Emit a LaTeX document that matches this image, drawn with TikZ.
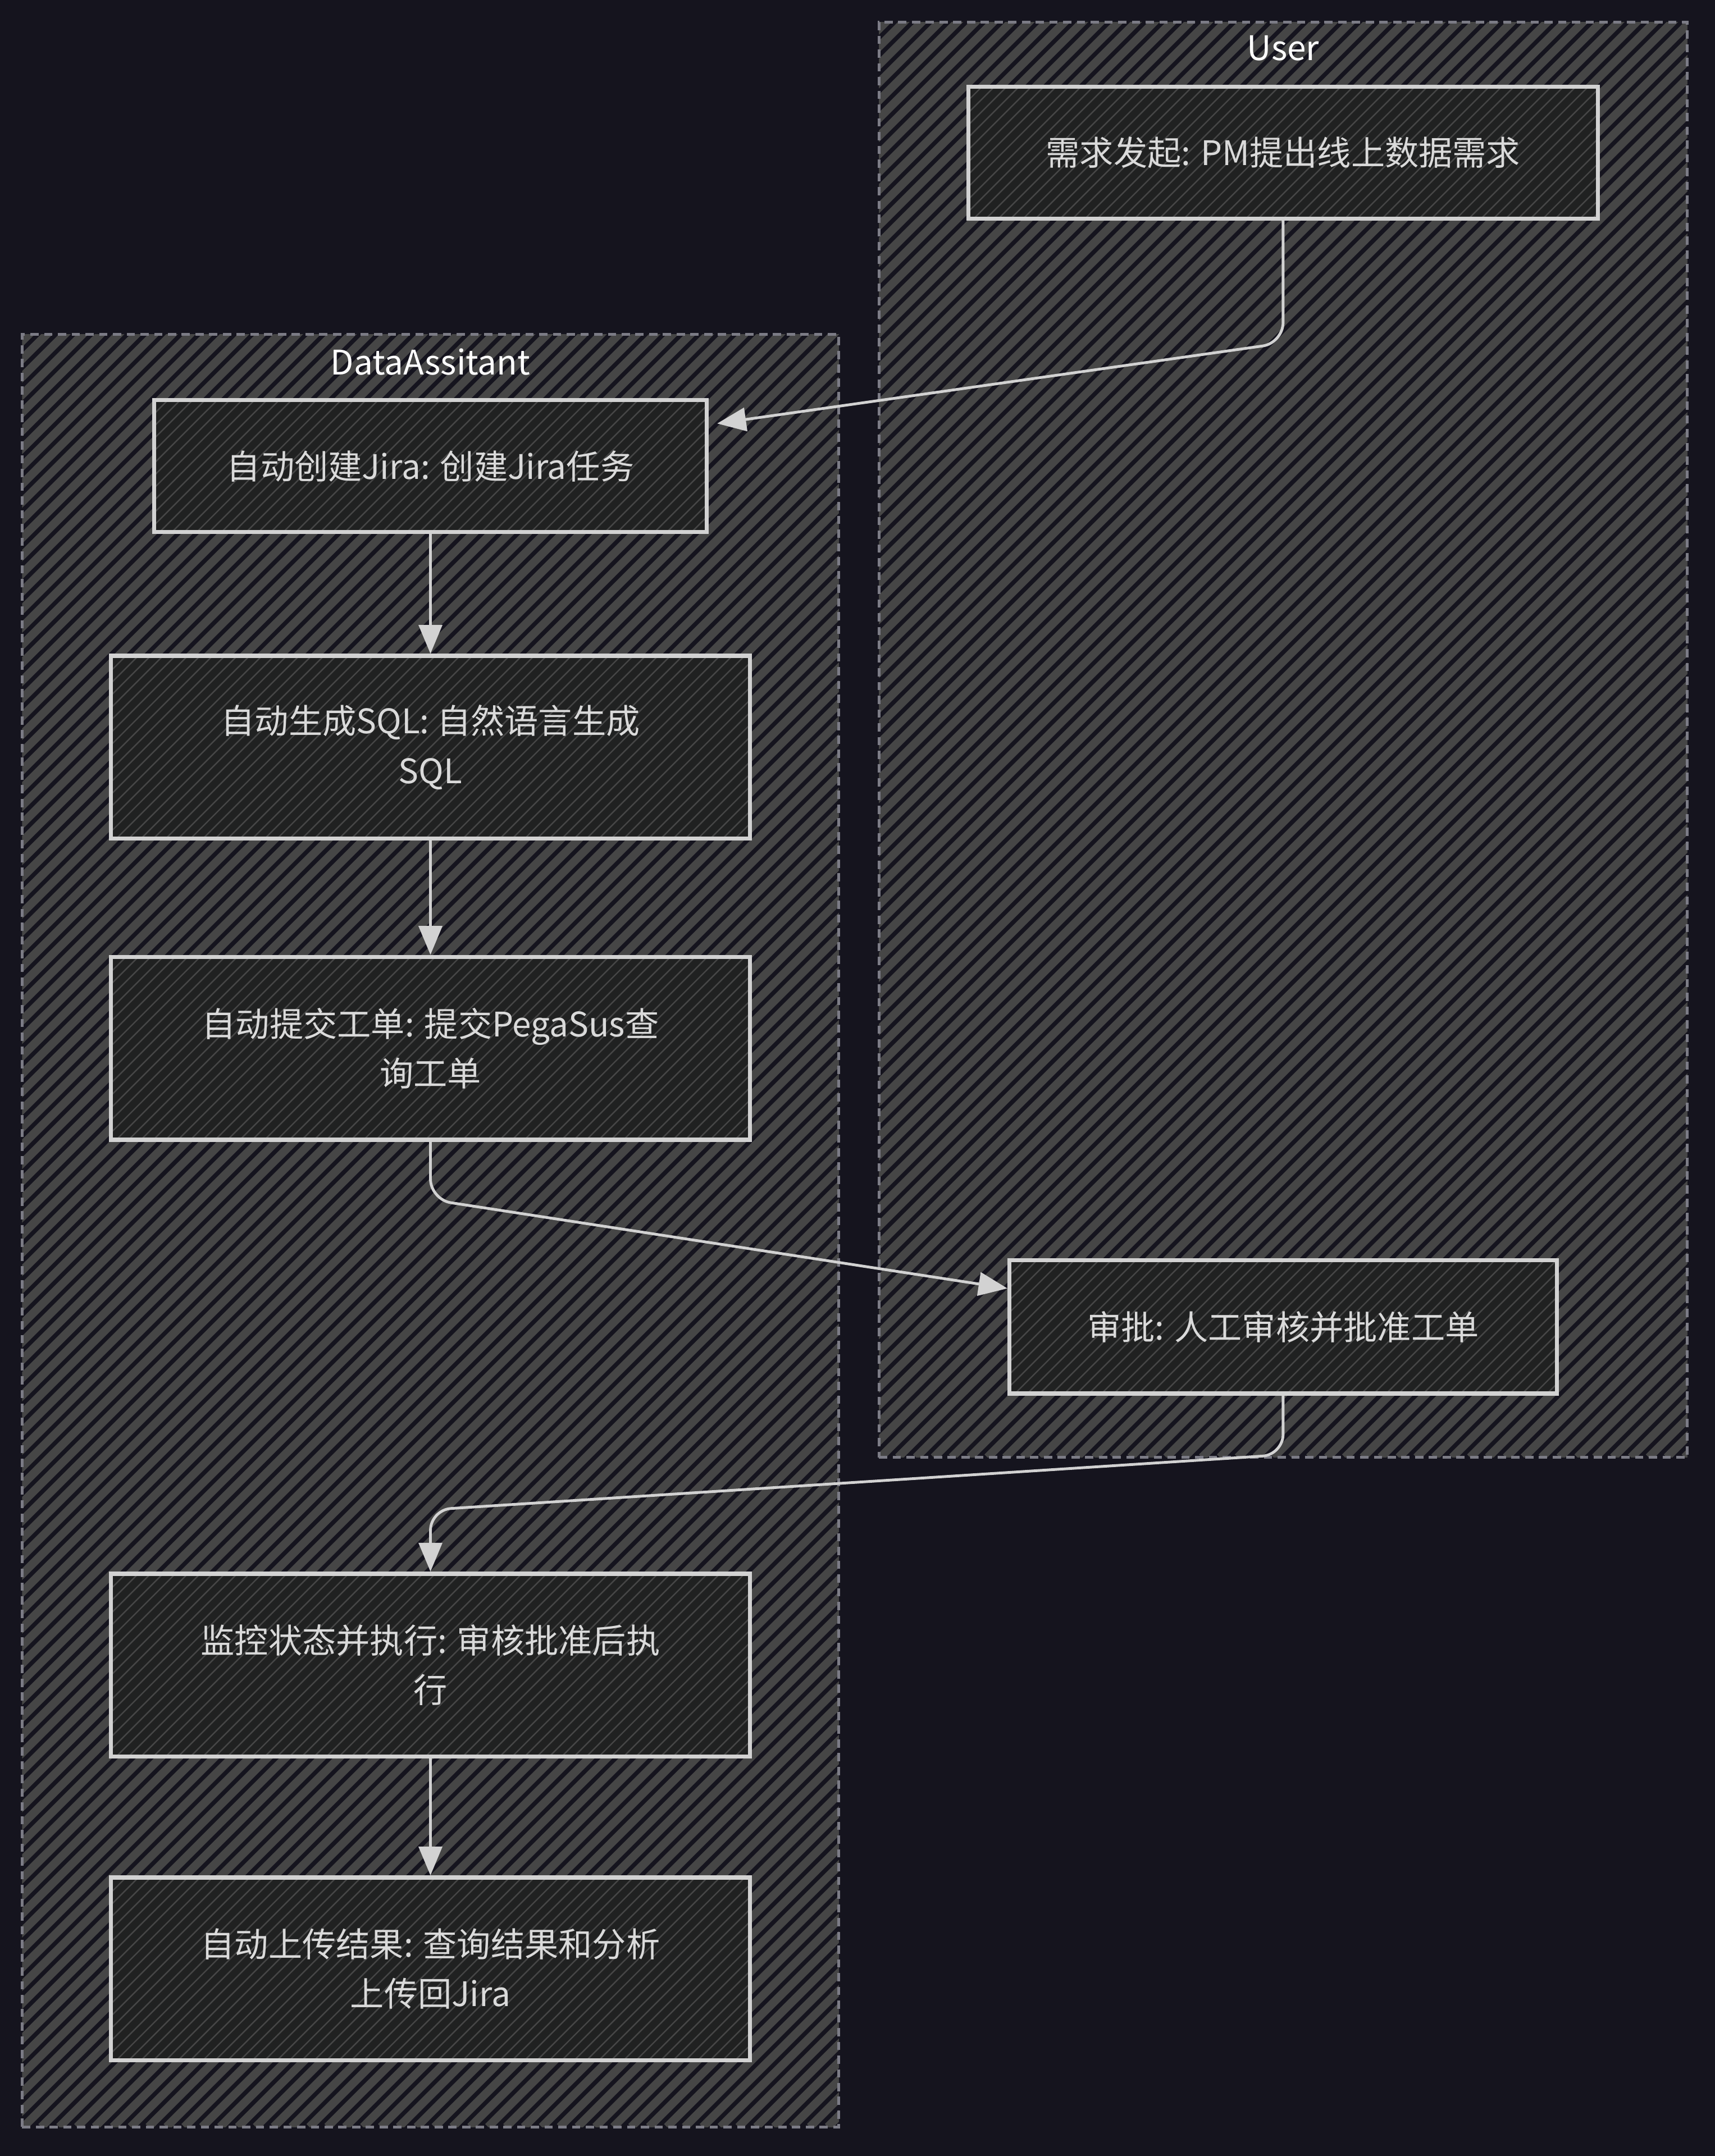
\documentclass[tikz,border=0pt]{standalone}
\usepackage{fontspec}
\setmainfont{Noto Sans CJK SC}
\usepackage{tikz}
\usetikzlibrary{positioning,arrows.meta}
\definecolor{bg}{HTML}{15141E}
\definecolor{hatch}{HTML}{464646}
\definecolor{boxfill}{HTML}{202121}
\definecolor{boxline}{HTML}{D2D2D2}
\definecolor{clusterline}{HTML}{7C7C86}
\definecolor{txt}{HTML}{DADADA}
\tikzset{>={Triangle[length=0.42cm,width=0.34cm]}}
\tikzset{
  hatchline/.style={draw=hatch, solid, line width=0.12cm},
  thinline/.style={draw=hatch, solid, line width=0.02cm},
  cluster/.style={draw=clusterline, dash pattern=on 0.12cm off 0.08cm, line width=0.04cm, inner sep=0,
    path picture={\foreach \i in {0,...,150}
      \draw[hatchline] ([xshift=-26.5cm+\i*0.26cm]path picture bounding box.south west) -- ++(26.6cm,26.6cm);}},
  ctitle/.style={text=white, font=\fontsize{14}{17}\selectfont, inner sep=0},
  task/.style={draw=boxline, fill=boxfill, line width=0.06cm, text=txt, align=center,
    font=\fontsize{14}{20.5}\selectfont, inner sep=0,
    path picture={\foreach \i in {0,...,70}
      \draw[thinline] ([xshift=-2.8cm+\i*0.18cm]path picture bounding box.south west) -- ++(2.8cm,2.8cm);}},
  wide/.style={minimum width=9.3cm, minimum height=2.66cm},
  edge/.style={->, draw=boxline, line width=0.04cm, rounded corners=0.3cm}
}

\begin{document}
\begin{tikzpicture}[x=0.02cm, y=-0.02cm]
    \useasboundingbox[fill=bg] (0,0) rectangle (1247,1568);
    % set up the clusters
    \node[cluster, minimum width=11.76cm, minimum height=20.88cm] (user) at (933,538) {};
    \node[cluster, minimum width=11.88cm, minimum height=26.08cm] (da) at (313,895) {};
    \node[ctitle] (usertitle) at (933,35) {User};
    \node[ctitle] (datitle) at (313,263) {DataAssitant};
    % set up the nodes
    \node[task, minimum width=9.16cm, minimum height=1.92cm] (need) at (933,111) {需求发起: PM提出线上数据需求};
    \node[task, minimum width=7.96cm, minimum height=1.94cm] (approve) at (933,965) {审批: 人工审核并批准工单};
    \node[task, minimum width=8.04cm, minimum height=1.92cm] (jira) at (313,339) {自动创建Jira: 创建Jira任务};
    \node[task, wide, below=1.74cm of jira] (sql) {自动生成SQL: 自然语言生成\\SQL};
    \node[task, wide, below=1.66cm of sql] (submit) {自动提交工单: 提交PegaSus查\\询工单};
    \node[task, wide] (monitor) at (313,1211) {监控状态并执行: 审核批准后执\\行};
    \node[task, wide, below=1.7cm of monitor] (upload) {自动上传结果: 查询结果和分析\\上传回Jira};
    % draw arrows between them
    \draw[edge] (need.south) -- ++(0,89) -- ([xshift=0.12cm,yshift=0.62cm]jira.east);
    \draw[edge] (jira) -- (sql);
    \draw[edge] (sql) -- (submit);
    \draw[edge] (submit.south) -- ++(0,42) -- ([yshift=0.56cm]approve.west);
    \draw[edge] (approve.south) -- ++(0,43) -- ([yshift=0.9cm]monitor.north) -- (monitor.north);
    \draw[edge] (monitor) -- (upload);
\end{tikzpicture}
\end{document}
